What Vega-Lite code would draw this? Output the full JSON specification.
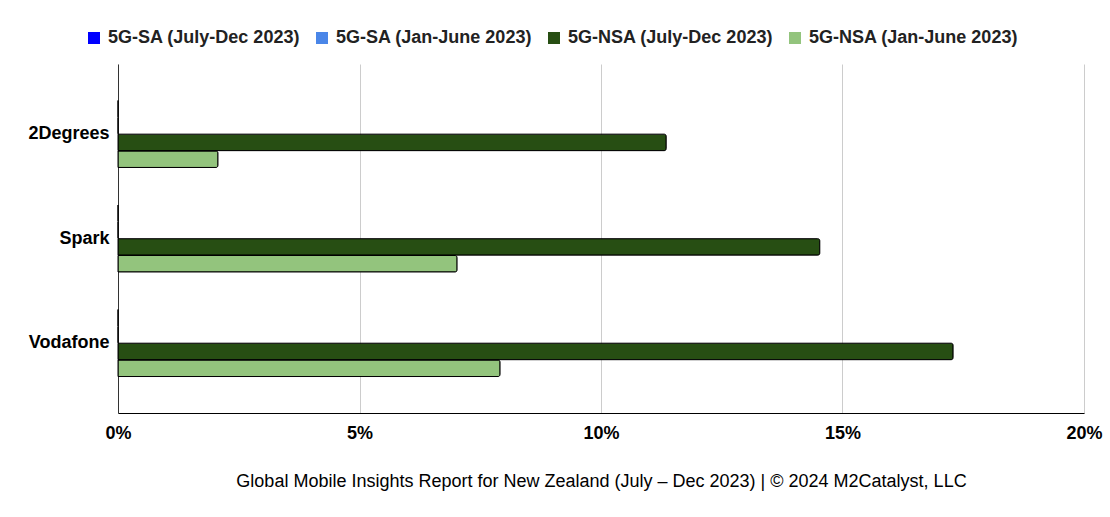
{
  "$schema": "https://vega.github.io/schema/vega-lite/v6.json",
  "width": 966,
  "height": 349,
  "autosize": "none",
  "padding": {"left": 118, "top": 64, "right": 26, "bottom": 104},
  "data": {
    "values": [
      {"operator": "2Degrees", "series": "5G-SA (July-Dec 2023)", "share": 0},
      {"operator": "2Degrees", "series": "5G-SA (Jan-June 2023)", "share": 0},
      {"operator": "2Degrees", "series": "5G-NSA (July-Dec 2023)", "share": 0.1135},
      {"operator": "2Degrees", "series": "5G-NSA (Jan-June 2023)", "share": 0.0207},
      {"operator": "Spark", "series": "5G-SA (July-Dec 2023)", "share": 0},
      {"operator": "Spark", "series": "5G-SA (Jan-June 2023)", "share": 0},
      {"operator": "Spark", "series": "5G-NSA (July-Dec 2023)", "share": 0.1453},
      {"operator": "Spark", "series": "5G-NSA (Jan-June 2023)", "share": 0.0702},
      {"operator": "Vodafone", "series": "5G-SA (July-Dec 2023)", "share": 0},
      {"operator": "Vodafone", "series": "5G-SA (Jan-June 2023)", "share": 0},
      {"operator": "Vodafone", "series": "5G-NSA (July-Dec 2023)", "share": 0.1729},
      {"operator": "Vodafone", "series": "5G-NSA (Jan-June 2023)", "share": 0.0791}
    ]
  },
  "mark": {
    "type": "bar",
    "stroke": "black",
    "strokeWidth": 1,
    "cornerRadiusEnd": 2
  },
  "encoding": {
    "y": {
      "field": "operator",
      "type": "nominal",
      "sort": null,
      "title": null,
      "scale": {"paddingInner": 0.359, "paddingOuter": 0.349},
      "axis": {
        "labelFont": "Liberation Sans",
        "labelFontSize": 18,
        "labelFontWeight": "bold",
        "labelColor": "#000",
        "labelPadding": 9,
        "ticks": false,
        "domainColor": "#333",
        "grid": false
      }
    },
    "yOffset": {
      "field": "series",
      "type": "nominal",
      "sort": ["5G-SA (July-Dec 2023)", "5G-SA (Jan-June 2023)", "5G-NSA (July-Dec 2023)", "5G-NSA (Jan-June 2023)"],
      "scale": {"paddingInner": 0.02, "paddingOuter": 0}
    },
    "x": {
      "field": "share",
      "type": "quantitative",
      "scale": {"domain": [0, 0.2]},
      "title": "Global Mobile Insights Report for New Zealand (July – Dec 2023) | © 2024 M2Catalyst, LLC",
      "axis": {
        "format": ".0%",
        "values": [0, 0.05, 0.1, 0.15, 0.2],
        "labelFlush": false,
        "labelFont": "Liberation Sans",
        "labelFontSize": 18,
        "labelFontWeight": "bold",
        "labelColor": "#000",
        "labelPadding": 11,
        "ticks": false,
        "domainColor": "#000",
        "gridColor": "#cccccc",
        "titleFont": "Liberation Sans",
        "titleFontSize": 18,
        "titleFontWeight": "normal",
        "titleColor": "#000",
        "titlePadding": 30
      }
    },
    "color": {
      "field": "series",
      "type": "nominal",
      "sort": ["5G-SA (July-Dec 2023)", "5G-SA (Jan-June 2023)", "5G-NSA (July-Dec 2023)", "5G-NSA (Jan-June 2023)"],
      "scale": {
        "domain": ["5G-SA (July-Dec 2023)", "5G-SA (Jan-June 2023)", "5G-NSA (July-Dec 2023)", "5G-NSA (Jan-June 2023)"],
        "range": ["#0000ff", "#4a86e8", "#274e13", "#93c47d"]
      },
      "legend": {
        "orient": "none",
        "legendX": -33,
        "legendY": -35,
        "direction": "horizontal",
        "title": null,
        "symbolType": "square",
        "symbolSize": 144,
        "symbolStrokeWidth": 0,
        "labelFont": "Liberation Sans",
        "labelFontSize": 18,
        "labelFontWeight": "bold",
        "labelColor": "#222",
        "labelLimit": 320,
        "labelOffset": 5,
        "columnPadding": 12
      }
    }
  },
  "config": {
    "view": {"stroke": null},
    "background": "white"
  }
}
